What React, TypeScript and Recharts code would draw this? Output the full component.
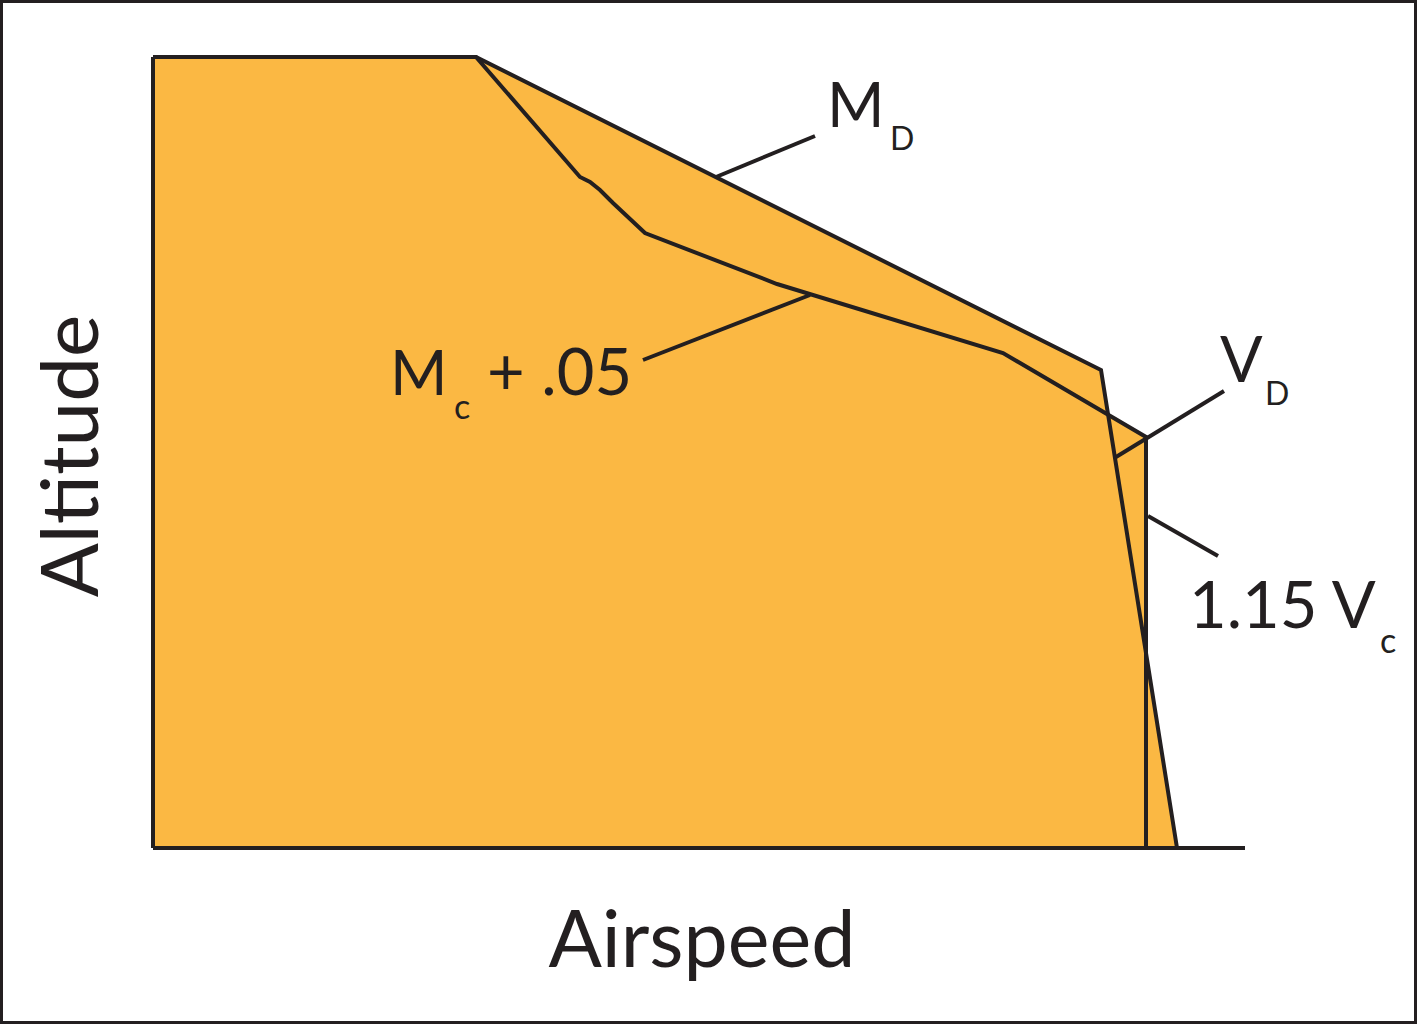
import { Area, ComposedChart, Line, ReferenceDot, ReferenceLine, XAxis, YAxis } from "recharts";

const INK = "#231f20";
const FILL = "#fbb843";
const FONT = "Lato, 'Open Sans', sans-serif";

// airspeed / altitude in arbitrary units (no scale shown on the original)
// M_D / V_D boundary
const dvAirspeed = [0, 323, 948, 1024];
const dvAltitude = [791, 791, 478, 0];

// M_C + .05 curve, then 1.15 V_C vertical
const mcAirspeed = [0, 323, 427, 437, 447, 460, 492, 624, 850, 993, 993];
const mcAltitude = [791, 791, 671, 666, 658, 645, 615, 564, 495, 411, 0];

const dvData = dvAirspeed.map((x, i) => ({ x, y: dvAltitude[i] }));
const mcData = mcAirspeed.map((x, i) => ({ x, y: mcAltitude[i] }));

type Run = { text: string; dx: number; dy: number; size: number };
type Note = { x: number; y: number; runs: Run[] };

const notes: Note[] = [
  { x: 674, y: 721, runs: [{ text: "M", dx: 0, dy: 0, size: 62 }, { text: "D", dx: 63, dy: 23, size: 32 }] },
  {
    x: 237,
    y: 453,
    runs: [
      { text: "M", dx: 0, dy: 0, size: 62 },
      { text: "c", dx: 64, dy: 24, size: 34 },
      { text: "+ .05", dx: 97, dy: 0, size: 65 },
    ],
  },
  { x: 1067, y: 466, runs: [{ text: "V", dx: 0, dy: 0, size: 63 }, { text: "D", dx: 45, dy: 23, size: 32 }] },
  { x: 1036, y: 220, runs: [{ text: "1.15 V", dx: 0, dy: 0, size: 65 }, { text: "c", dx: 191, dy: 25, size: 34 }] },
];

// leader lines from labels to curves
const leaders = [
  [{ x: 563, y: 671 }, { x: 662, y: 712 }],
  [{ x: 490, y: 488 }, { x: 657, y: 553 }],
  [{ x: 1071, y: 457 }, { x: 963, y: 391 }],
  [{ x: 995, y: 332 }, { x: 1065, y: 292 }],
];

export default function App() {
  return (
    <div style={{ position: "absolute", left: 0, top: 0, width: 1417, height: 1024, background: "#fff" }}>
      <ComposedChart width={1417} height={1024} data={dvData} margin={{ top: 57, right: 172, bottom: 146, left: 93 }}>
        <XAxis
          type="number"
          dataKey="x"
          domain={[0, 1092]}
          height={30}
          tick={false}
          tickLine={false}
          axisLine={{ stroke: INK, strokeWidth: 4 }}
        />
        <YAxis
          type="number"
          dataKey="y"
          domain={[0, 791]}
          width={60}
          tick={false}
          tickLine={false}
          axisLine={{ stroke: INK, strokeWidth: 4 }}
        />
        <Area data={dvData} dataKey="y" type="linear" fill={FILL} fillOpacity={1} stroke="none" isAnimationActive={false} />
        <Area data={mcData} dataKey="y" type="linear" fill={FILL} fillOpacity={1} stroke="none" isAnimationActive={false} />
        <Line data={dvData} dataKey="y" type="linear" stroke={INK} strokeWidth={4} dot={false} isAnimationActive={false} />
        <Line data={mcData} dataKey="y" type="linear" stroke={INK} strokeWidth={4} dot={false} isAnimationActive={false} />
        {leaders.map((seg, i) => (
          <ReferenceLine key={i} segment={seg} stroke={INK} strokeWidth={4} ifOverflow="visible" />
        ))}
        {notes.map((n, i) => (
          <ReferenceDot
            key={i}
            x={n.x}
            y={n.y}
            r={0}
            ifOverflow="visible"
            shape={(p: any) => (
              <text fill={INK} fontFamily={FONT}>
                {n.runs.map((r, j) => (
                  <tspan key={j} x={p.cx + r.dx} y={p.cy + r.dy} fontSize={r.size}>
                    {r.text}
                  </tspan>
                ))}
              </text>
            )}
          />
        ))}
        <ReferenceDot
          x={549}
          y={-119}
          r={0}
          ifOverflow="visible"
          shape={(p: any) => (
            <text x={p.cx} y={p.cy} fill={INK} fontFamily={FONT} fontSize={79} textAnchor="middle">
              Airspeed
            </text>
          )}
        />
        <ReferenceDot
          x={-55}
          y={392}
          r={0}
          ifOverflow="visible"
          shape={(p: any) => (
            <text
              x={p.cx}
              y={p.cy}
              fill={INK}
              fontFamily={FONT}
              fontSize={80}
              textAnchor="middle"
              transform={`rotate(-90 ${p.cx} ${p.cy})`}
            >
              Altitude
            </text>
          )}
        />
      </ComposedChart>
      <div
        style={{
          position: "absolute",
          left: 0,
          top: 0,
          width: 1417,
          height: 1024,
          boxSizing: "border-box",
          border: `3px solid ${INK}`,
          pointerEvents: "none",
        }}
      />
    </div>
  );
}
